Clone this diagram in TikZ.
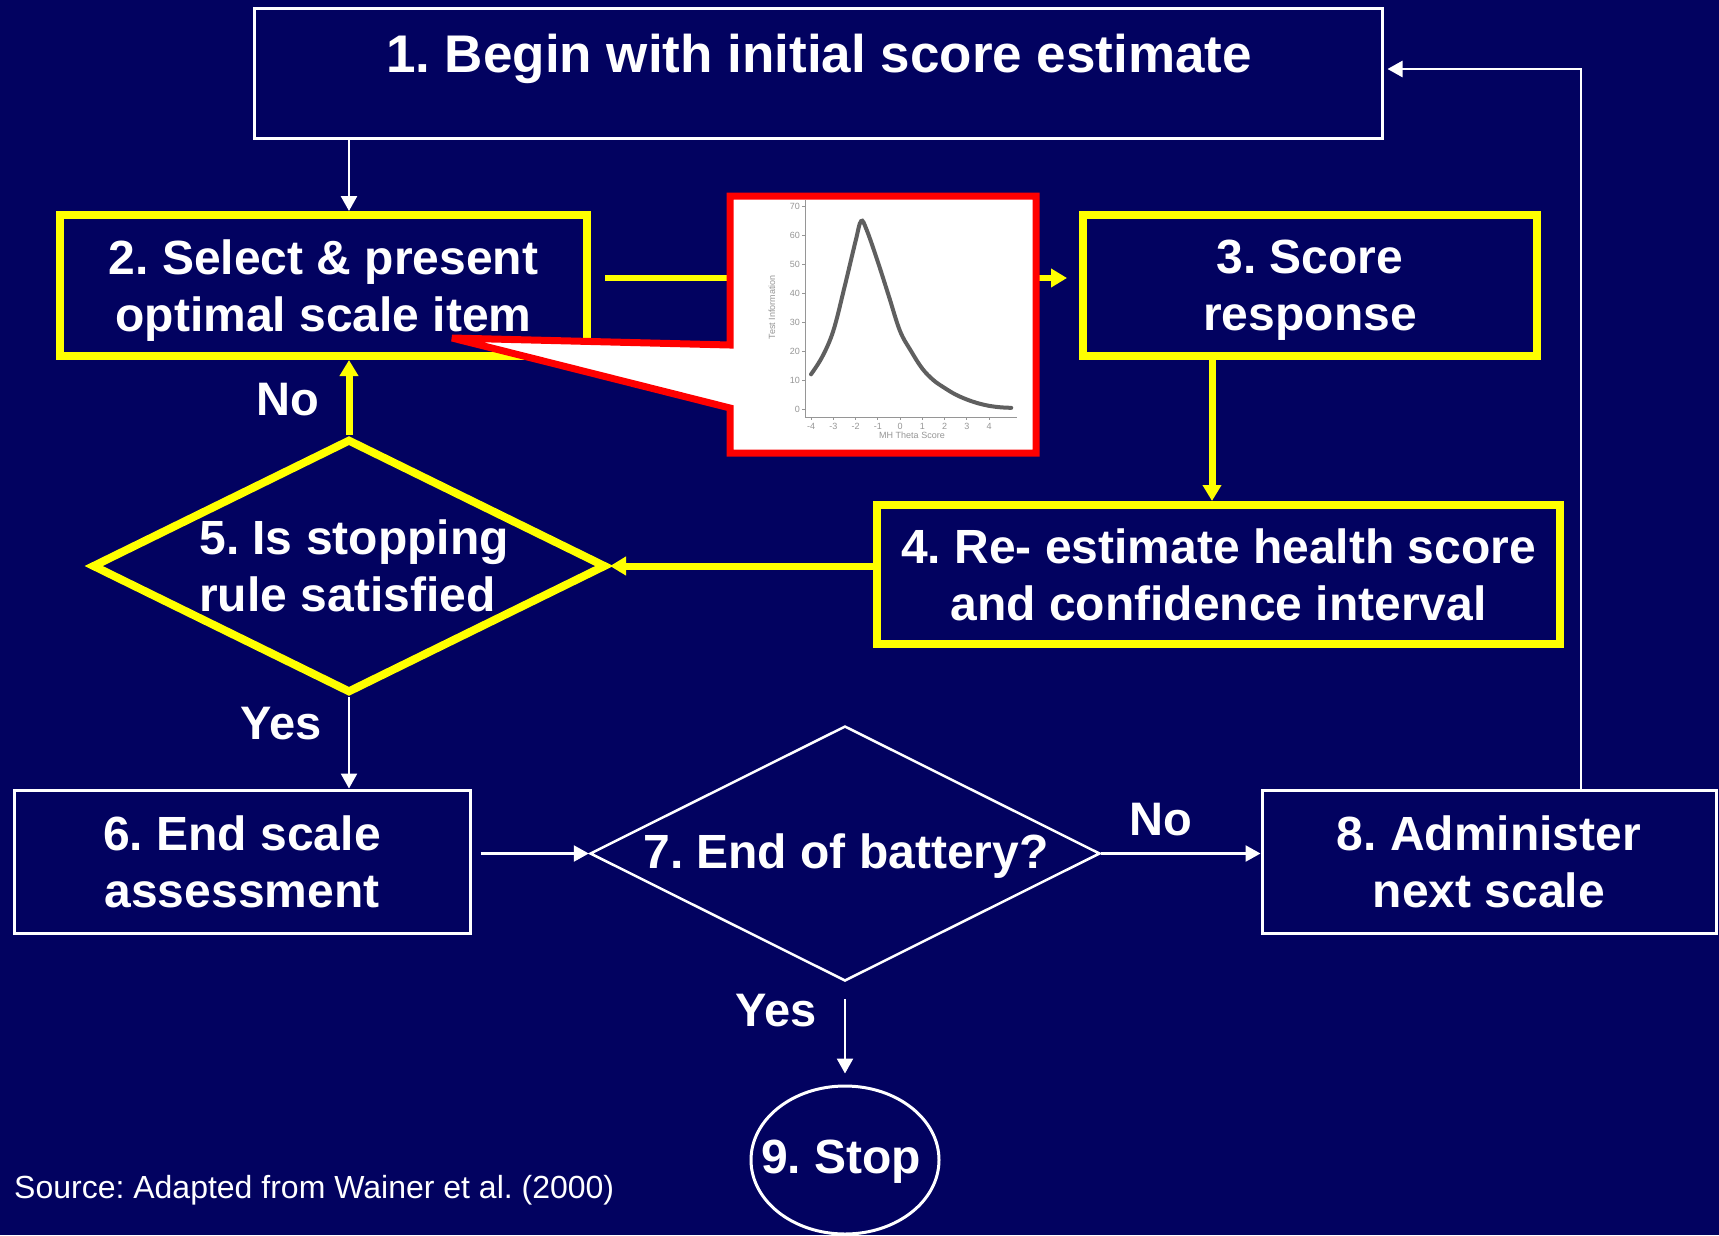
\documentclass[tikz,border=0pt]{standalone}
\usepackage{fontspec}
\setmainfont{Liberation Sans}
\usetikzlibrary{arrows.meta,shapes.geometric}
\definecolor{bg}{RGB}{2,2,96}
\definecolor{yel}{RGB}{255,255,0}
\definecolor{callred}{RGB}{255,0,0}
\definecolor{axisgray}{RGB}{150,150,150}
\definecolor{curvegray}{RGB}{95,95,95}
\frenchspacing
\begin{document}
\begin{tikzpicture}[x=1pt,y=-1pt,
  maintext/.style={text=white,font=\fontsize{48}{57}\selectfont\bfseries,align=center,inner sep=0pt,text depth=0pt},
  wbox/.style={draw=white,line width=3pt,rectangle,inner sep=0pt},
  ybox/.style={draw=yel,line width=8pt,rectangle,inner sep=0pt},
  wdiam/.style={draw=white,line width=2.5pt,diamond,inner sep=0pt},
  ydiam/.style={draw=yel,line width=8pt,diamond,inner sep=0pt},
  warr/.style={draw=white,line width=2.5pt,-{Triangle[length=15pt,width=16pt]}},
  yarr/.style={draw=yel,line width=7pt,-{Triangle[length=16pt,width=18pt]}},
  lbl/.style={text=white,font=\fontsize{47}{50}\selectfont\bfseries,inner sep=0pt},
  ticklbl/.style={text=axisgray,font=\fontsize{9}{10}\selectfont,inner sep=0pt},
]
\fill[bg] (0,0) rectangle (1719,1235);
\useasboundingbox (0,0) rectangle (1719,1235);

% boxes
\node[wbox,minimum width=1128pt,minimum height=130pt] (b1) at (818,73) {};
\node[maintext,font=\fontsize{53}{57}\selectfont\bfseries] (t1) at (819,53) {1. Begin with initial score estimate};
\node[ybox,maintext,minimum width=527pt,minimum height=141pt] (b2) at (323.5,285.5) {2. Select \& present\\optimal scale item};
\node[ybox,maintext,minimum width=454pt,minimum height=141pt] (b3) at (1310,285.5) {3. Score\\response};
\node[ybox,maintext,minimum width=683pt,minimum height=139pt] (b4) at (1218.5,574.5) {4. Re- estimate health score\\and confidence interval};
\node[ydiam,minimum width=514pt,minimum height=254pt] (d5) at (349,566) {};
\node[maintext,align=left] (t5) at (354,566) {5. Is stopping\\rule satisfied};
\node[wbox,maintext,minimum width=456pt,minimum height=143pt] (b6) at (242,861.5) {6. End scale\\assessment};
\node[wdiam,minimum width=510pt,minimum height=255pt] (d7) at (845,853.5) {};
\node[maintext] (t7) at (846,851) {7. End of battery?};
\node[wbox,maintext,minimum width=454pt,minimum height=143pt] (b8) at (1489,861.5) {8. Administer\\next scale};
\node[draw=white,line width=3pt,ellipse,minimum width=188pt,minimum height=148pt,inner sep=0pt] (st) at (845,1160) {};
\node[maintext] (t9) at (841,1157) {9. Stop};

% labels
\node[lbl] (no1) at (288,400) {No};
\node[lbl] (yes1) at (281,724) {Yes};
\node[lbl] (no2) at (1161,820) {No};
\node[lbl] (yes2) at (776,1011) {Yes};
\node[text=white,font=\fontsize{32}{36}\selectfont,anchor=west,inner sep=0pt] (src) at (14,1190) {Source: Adapted from Wainer et al. (2000)};

% helper coordinates
\coordinate (c12) at (349,0);
\coordinate (c23) at (0,278);
\coordinate (c34) at (1212,0);
\coordinate (c81) at (1581,69);

% connectors
\draw[warr] (b1.south -| c12) -- (b2.north -| c12);
\draw[yarr,line width=6pt,shorten <=14pt,shorten >=12pt] (b2.east |- c23) -- (b3.west |- c23);
\draw[yarr] (b3.south -| c34) -- (b4.north -| c34);
\draw[yarr] (b4.west |- d5.east) -- (d5.east);
\draw[yarr] (d5.north) -- (b2.south -| d5.north);
\draw[warr] (d5.south) -- (b6.north -| d5.south);
\draw[warr,shorten <=9pt] (b6.east |- d7.west) -- (d7.west);
\draw[warr] (d7.east) -- (b8.west |- d7.east);
\draw[warr,shorten <=17pt,shorten >=11pt] (d7.south) -- (st.north);
\draw[warr,shorten >=4pt] (b8.north -| c81) -- (c81) -- (b1.east |- c81);

% callout with chart
\filldraw[fill=white,draw=callred,line width=7pt,line join=miter,miter limit=3]
  (730,196) -- (1036,196) -- (1036,453) -- (730,453) -- (730,408) -- (452,338) -- (730,345) -- cycle;
\draw[axisgray,line width=0.8pt] (805,200) -- (805,417) -- (1017,417);
\foreach \v in {0,10,...,70} {
  \draw[axisgray,line width=0.6pt] (802,{409-\v*2.89}) -- (805,{409-\v*2.89});
  \node[ticklbl,anchor=east] (yl\v) at (800,{409-\v*2.89}) {\v};
}
\foreach \t in {-4,...,4} {
  \draw[axisgray,line width=0.6pt] ({811+(\t+4)*22.25},417) -- ({811+(\t+4)*22.25},420);
  \node[ticklbl] (xl\t) at ({811+(\t+4)*22.25},426) {\t};
}
\node[ticklbl] (xt) at (912,435) {MH Theta Score};
\node[ticklbl,rotate=90] (yt) at (772,307) {Test Information};
\begin{scope}[shift={(811,409)},x=22.25pt,y=2.89pt]
\draw[curvegray,line width=4pt,line cap=round] plot[smooth,tension=0.6] coordinates {(0,12) (0.5,18) (1,27) (1.5,42) (2,58) (2.25,65) (2.5,62) (3,51) (3.5,39) (4,27) (4.5,20) (5,14) (5.5,10) (6,7.3) (6.5,5) (7,3.3) (7.5,2) (8,1.1) (8.5,0.6) (9,0.4)};
\end{scope}
\end{tikzpicture}
\end{document}
